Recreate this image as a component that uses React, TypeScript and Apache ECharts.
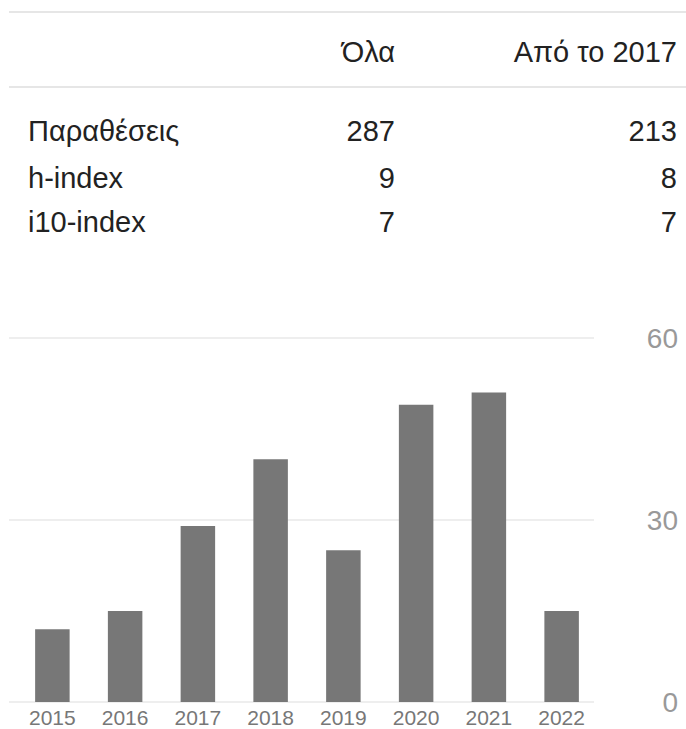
import React, { useEffect, useRef } from "react";
import * as echarts from "echarts";

const years = ["2015", "2016", "2017", "2018", "2019", "2020", "2021", "2022"];
const citations = [12, 15, 29, 40, 25, 49, 51, 15];
const yMin = 0;
const yMax = 60;
const yInterval = 30;

const headers = ["Όλα", "Από το 2017"];
const rowLabels = ["Παραθέσεις", "h-index", "i10-index"];
const allValues = ["287", "9", "7"];
const sinceValues = ["213", "8", "7"];

const FONT = '"Liberation Sans", Arial, sans-serif';

function txt(text: string, x: number, y: number, align: string, fill: string, size: number) {
  return {
    type: "text",
    x,
    y,
    silent: true,
    style: {
      text,
      fill,
      fontSize: size,
      fontFamily: FONT,
      align,
      verticalAlign: "middle",
      textAlign: align,
      textVerticalAlign: "middle",
    },
  };
}

export default function App() {
  const ref = useRef<HTMLDivElement>(null);
  useEffect(() => {
    if (!ref.current) return;
    const chart = echarts.init(ref.current, undefined, { renderer: "svg" });
    const rowY = [131, 178, 222];
    const graphics: any[] = [
      { type: "line", silent: true, shape: { x1: 9, y1: 12, x2: 686, y2: 12 }, style: { stroke: "#e6e6e6", lineWidth: 2 } },
      { type: "line", silent: true, shape: { x1: 9, y1: 87, x2: 686, y2: 87 }, style: { stroke: "#e6e6e6", lineWidth: 2 } },
      txt(headers[0], 395, 52, "right", "#222", 29),
      txt(headers[1], 677, 52, "right", "#222", 29),
    ];
    rowLabels.forEach((l, i) => {
      graphics.push(txt(l, 28, rowY[i], "left", "#222", 29));
      graphics.push(txt(allValues[i], 395, rowY[i], "right", "#222", 29));
      graphics.push(txt(sinceValues[i], 677, rowY[i], "right", "#222", 29));
    });

    chart.setOption({
      animation: false,
      graphic: graphics,
      grid: [
        { left: 16, right: 88, top: 338, bottom: 27 },
        { left: 9, right: 92, top: 338, bottom: 27 },
      ],
      xAxis: [
        {
          type: "category",
          gridIndex: 0,
          data: years,
          axisLine: { show: false },
          axisTick: { show: false },
          axisLabel: { color: "#777", fontSize: 21, fontFamily: FONT, margin: 5 },
        },
        { type: "value", gridIndex: 1, show: false, min: 0, max: 1 },
      ],
      yAxis: [
        {
          type: "value",
          gridIndex: 0,
          position: "right",
          min: yMin,
          max: yMax,
          interval: yInterval,
          splitLine: { show: false },
          axisLine: { show: false },
          axisTick: { show: false },
          axisLabel: { color: "#999", fontSize: 28, fontFamily: FONT, align: "right", margin: 80 },
        },
        {
          type: "value",
          gridIndex: 1,
          min: yMin,
          max: yMax,
          interval: yInterval,
          axisLine: { show: false },
          axisTick: { show: false },
          axisLabel: { show: false },
          splitLine: { show: true, lineStyle: { color: "#e8e8e8", width: 1.5 } },
        },
      ],
      series: [
        {
          type: "bar",
          xAxisIndex: 0,
          yAxisIndex: 0,
          data: citations,
          barWidth: 34.5,
          itemStyle: { color: "#777777" },
          z: 3,
        },
      ],
    });
    return () => chart.dispose();
  }, []);
  return (
    <div
      ref={ref}
      style={{ position: "absolute", left: 0, top: 0, width: 686, height: 729, background: "#fff" }}
    />
  );
}
